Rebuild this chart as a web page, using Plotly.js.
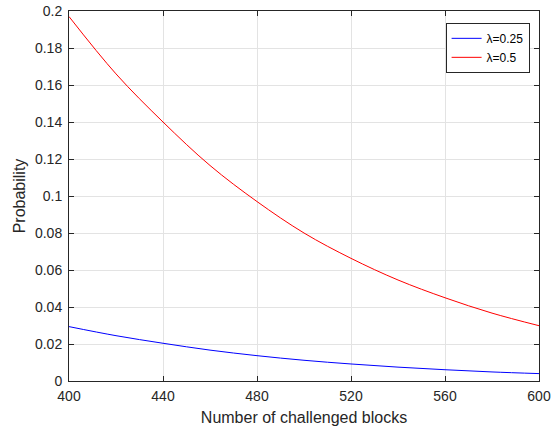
<!DOCTYPE html>
<html><head><meta charset="utf-8">
<script src="https://cdn.plot.ly/plotly-3.0.1.min.js"></script>
<style>html,body{margin:0;padding:0;background:#fff}</style>
</head><body><div id="chart" style="width:555px;height:430px"></div>
<script>
const blocks = [400, 420, 440, 460, 480, 500, 520, 540, 560, 580, 600];
const probLambda025 = [0.0294, 0.0245, 0.0204, 0.0167, 0.0137, 0.0112, 0.0092, 0.0075, 0.0061, 0.0049, 0.0040];
const probLambda05 = [0.197, 0.166, 0.140, 0.1165, 0.097, 0.080, 0.0663, 0.0546, 0.045, 0.0367, 0.0299];
const xTicks = [400, 440, 480, 520, 560, 600];
const yTicks = [0, 0.02, 0.04, 0.06, 0.08, 0.1, 0.12, 0.14, 0.16, 0.18, 0.2];
const yTickText = ['0', '0.02', '0.04', '0.06', '0.08', '0.1', '0.12', '0.14', '0.16', '0.18', '0.2'];

const FONT = 'Liberation Sans, Arial, sans-serif';
const axisCommon = {
  showline: true, mirror: 'ticks', linecolor: '#262626', linewidth: 1,
  ticks: 'inside', ticklen: 5, tickcolor: '#262626',
  showgrid: true, gridcolor: '#e3e3e3', gridwidth: 1, zeroline: false,
  tickfont: {family: FONT, size: 14, color: '#262626'}
};
const data = [
  {x: blocks, y: probLambda025, mode: 'lines', name: 'λ=0.25', line: {color: '#0000ff', width: 1, shape: 'spline'}},
  {x: blocks, y: probLambda05, mode: 'lines', name: 'λ=0.5', line: {color: '#ff0000', width: 1, shape: 'spline'}}
];
const layout = {
  width: 555, height: 430,
  margin: {l: 69, r: 16, t: 11, b: 49},
  paper_bgcolor: '#fff', plot_bgcolor: '#fff',
  showlegend: true,
  legend: {x: 0.98, xanchor: 'right', y: 0.968, yanchor: 'top', bgcolor: '#fff', bordercolor: '#262626', borderwidth: 1,
    font: {family: FONT, size: 12, color: '#000'}, tracegroupgap: 0, itemwidth: 30},
  xaxis: Object.assign({}, axisCommon, {range: [400, 600], tickvals: xTicks, ticklabelstandoff: 2,
    title: {text: 'Number of challenged blocks', font: {family: FONT, size: 16, color: '#262626'}, standoff: 9}}),
  yaxis: Object.assign({}, axisCommon, {range: [0, 0.2], tickvals: yTicks, ticktext: yTickText, ticklabelstandoff: 3,
    title: {text: 'Probability', font: {family: FONT, size: 16, color: '#262626'}, standoff: 5}})
};
Plotly.newPlot('chart', data, layout, {displayModeBar: false, staticPlot: true});
</script></body></html>
